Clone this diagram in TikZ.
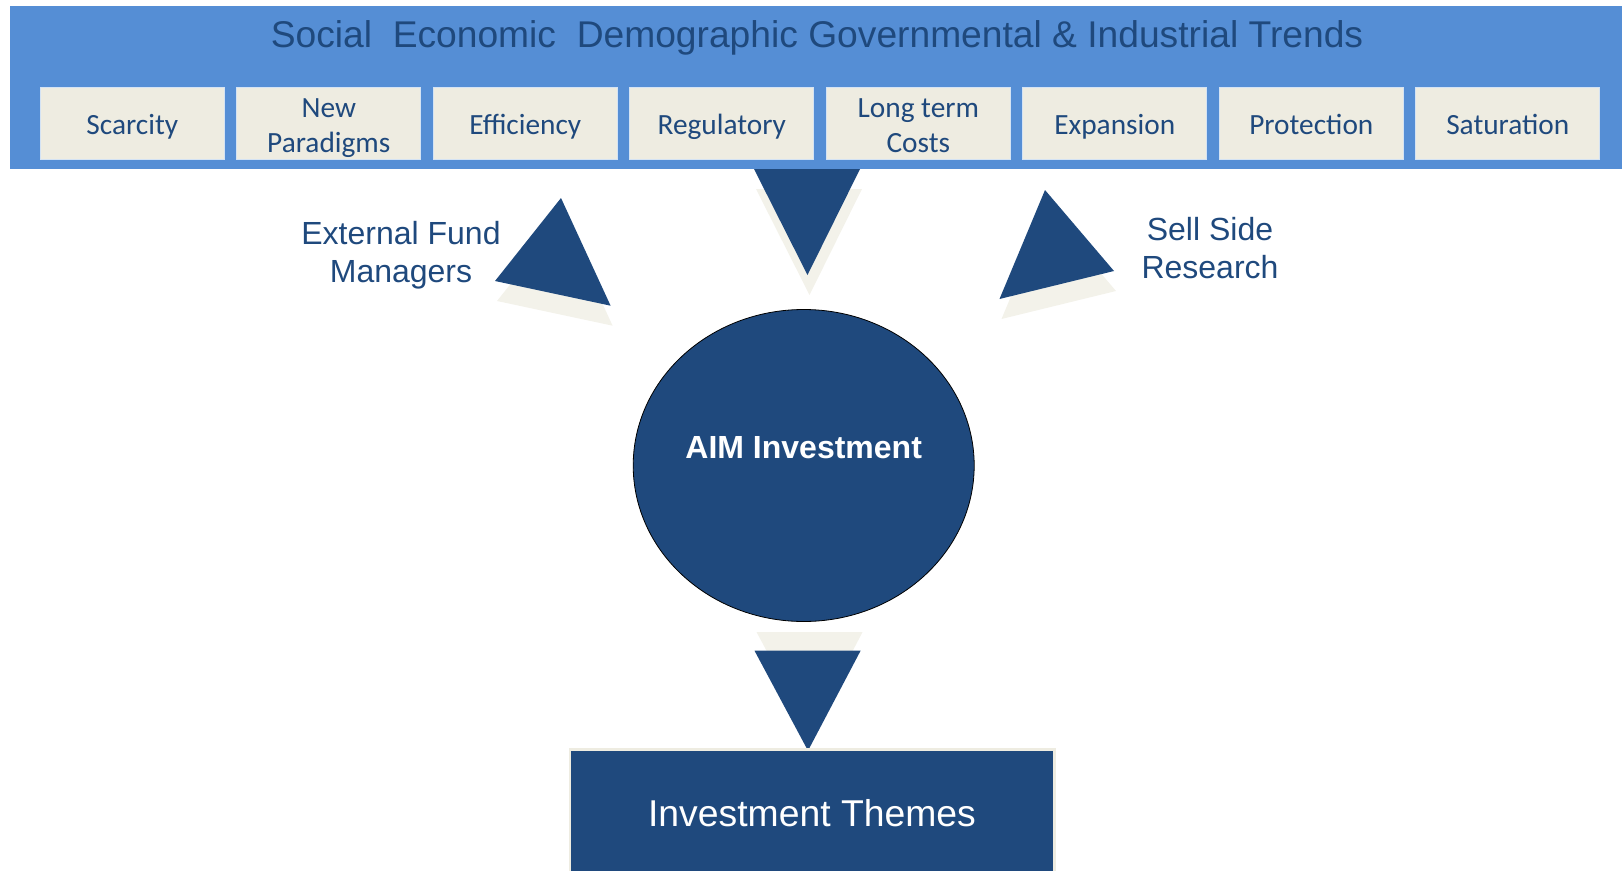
\documentclass[tikz,border=0pt]{standalone}
\usepackage{fontspec}
\usetikzlibrary{shapes.geometric}
\setmainfont{Liberation Sans}
\newfontfamily\calib{Carlito}
\definecolor{band}{HTML}{558ED5}
\definecolor{navy}{HTML}{1F497D}
\definecolor{beige}{HTML}{EEECE1}
\definecolor{shade}{HTML}{F3F2EA}
\tikzset{
  trendbox/.style={fill=beige, draw=white!75!band, line width=0.6pt, minimum width=184*0.75pt, minimum height=72*0.75pt, inner sep=0pt},
  trendtext/.style={inner sep=0pt, align=center, text=navy, font=\calib\fontsize{22}{26}\selectfont},
  tri/.style={fill=navy},
  trishadow/.style={fill=shade},
  lbl/.style={text=navy, align=center, font=\fontsize{24}{28.5}\selectfont},
}
\begin{document}
\begin{tikzpicture}[x=0.75pt, y=-0.75pt]
\useasboundingbox (0,0) rectangle (1622,871);
% band
\fill[band] (10,6) rectangle (1622,169);
\node[anchor=base, text=navy, font=\fontsize{27.9}{32}\selectfont] (title) at (817,47) {Social\ \ Economic\ \ Demographic Governmental \& Industrial Trends};
% boxes
\foreach \i/\t in {0/{\strut Scarcity}, 1/{\strut New\\\strut Paradigms}, 2/{\strut Efficiency}, 3/{\strut Regulatory}, 4/{\strut Long term\\\strut Costs}, 5/{\strut Expansion}, 6/{\strut Protection}, 7/{\strut Saturation}}{
  \node[trendbox] (b\i) at ({132.3+196.5*\i},123) {};
  \node[trendtext] (t\i) at ([yshift=-3.6pt]b\i.center) {\t};
}
% top centre arrow
\fill[trishadow] (756,189) -- (862,189) -- (809.5,295) -- cycle;
\fill[tri] (754,169) -- (860,169) -- (807.5,275) -- cycle;
% left arrow
\fill[trishadow] (563,218) -- (497,301) -- (612.6,325.7) -- cycle;
\fill[tri] (561,198) -- (495,281) -- (610.6,305.7) -- cycle;
% right arrow
\fill[trishadow] (1047,210) -- (1001.5,319) -- (1116,291) -- cycle;
\fill[tri] (1045,190) -- (999.5,299) -- (1114,271) -- cycle;
% ellipse
\node[draw=black, line width=0.6pt, fill=navy, ellipse, minimum width=341*0.75pt, minimum height=312*0.75pt, inner sep=0pt] (aim) at (803.7,465.5) {};
\node[text=white, font=\bfseries\fontsize{24}{28}\selectfont] (aimtxt) at (803.7,448) {AIM Investment};
% bottom arrow
\fill[trishadow] (756.5,632) -- (862.6,632) -- (810,732) -- cycle;
\fill[tri] (754.5,650.7) -- (860.6,650.7) -- (808,750.7) -- cycle;
% bottom box
\fill[beige] (568.5,748) rectangle (1055.5,875);
\fill[navy] (571,751) rectangle (1053,875);
\node[text=white, font=\fontsize{28}{32}\selectfont] (themes) at (812,813) {Investment Themes};
% labels
\node[lbl] (ext) at (401,255) {External Fund\\Managers};
\node[lbl] (sell) at (1210,248.5) {Sell Side\\Research};
\end{tikzpicture}
\end{document}
